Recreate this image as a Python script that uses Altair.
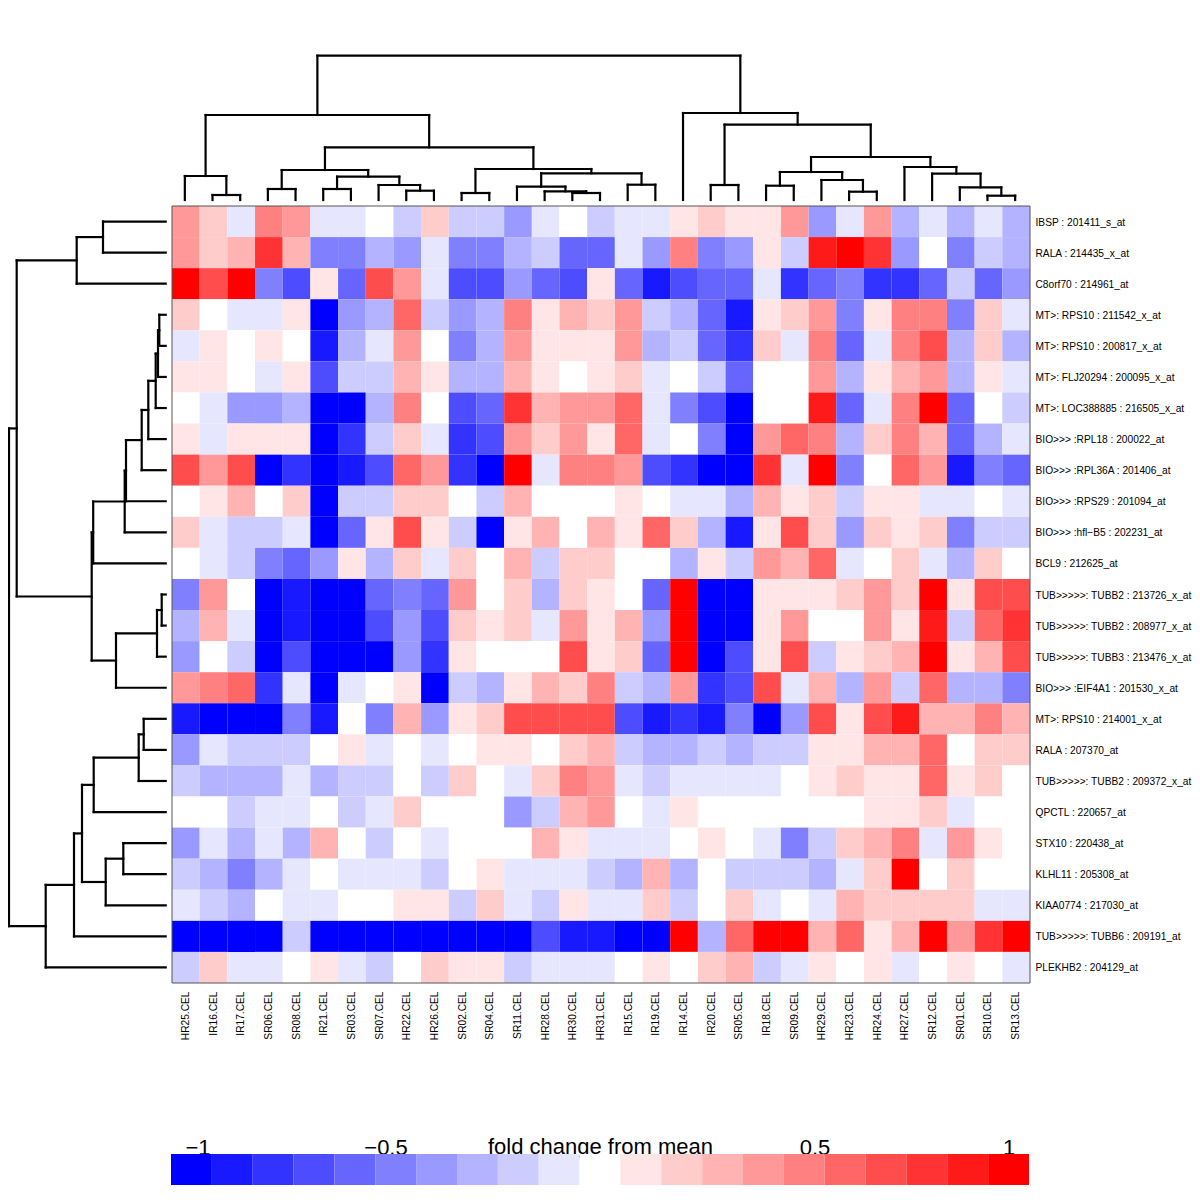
import altair as alt
import pandas as pd

FONT = "Liberation Sans"

col_labels = ["HR25.CEL", "IR16.CEL", "IR17.CEL", "SR06.CEL", "SR08.CEL", "IR21.CEL", "SR03.CEL", "SR07.CEL",
              "HR22.CEL", "HR26.CEL", "SR02.CEL", "SR04.CEL", "SR11.CEL", "HR28.CEL", "HR30.CEL", "HR31.CEL",
              "IR15.CEL", "IR19.CEL", "IR14.CEL", "IR20.CEL", "SR05.CEL", "IR18.CEL", "SR09.CEL", "HR29.CEL",
              "HR23.CEL", "HR24.CEL", "HR27.CEL", "SR12.CEL", "SR01.CEL", "SR10.CEL", "SR13.CEL"]

row_labels = ["IBSP : 201411_s_at", "RALA : 214435_x_at", "C8orf70 : 214961_at", "MT>: RPS10 : 211542_x_at",
              "MT>: RPS10 : 200817_x_at", "MT>: FLJ20294 : 200095_x_at", "MT>: LOC388885 : 216505_x_at",
              "BIO>>> :RPL18 : 200022_at", "BIO>>> :RPL36A : 201406_at", "BIO>>> :RPS29 : 201094_at",
              "BIO>>> :hfl\u2212B5 : 202231_at", "BCL9 : 212625_at", "TUB>>>>>: TUBB2 : 213726_x_at",
              "TUB>>>>>: TUBB2 : 208977_x_at", "TUB>>>>>: TUBB3 : 213476_x_at", "BIO>>> :EIF4A1 : 201530_x_at",
              "MT>: RPS10 : 214001_x_at", "RALA : 207370_at", "TUB>>>>>: TUBB2 : 209372_x_at", "QPCTL : 220657_at",
              "STX10 : 220438_at", "KLHL11 : 205308_at", "KIAA0774 : 217030_at", "TUB>>>>>: TUBB6 : 209191_at",
              "PLEKHB2 : 204129_at"]

# fold change from mean, in tenths (one line per probe, one entry per sample)
fold_tenths = [
    [4, 2, -1, 5, 4, -1, -1, 0, -2, 2, -2, -2, -4, -1, 0, -2, -1, -1, 1, 2, 1, 1, 4, -4, -1, 4, -3, -1, -3, -1, -3],
    [4, 2, 3, 8, 3, -5, -5, -3, -4, -1, -5, -5, -3, -2, -6, -6, -1, -4, 5, -5, -4, 1, -2, 9, 10, 8, -4, 0, -5, -2, -3],
    [10, 7, 10, -5, -7, 1, -6, 7, 4, -1, -7, -7, -4, -6, -7, 1, -6, -9, -7, -6, -6, -1, -8, -6, -5, -8, -8, -6, -2, -6, -4],
    [2, 0, -1, -1, 1, -10, -4, -3, 6, -2, -4, -3, 5, 1, 3, 2, 4, -2, -3, -6, -9, 1, 2, 4, -5, 1, 5, 5, -5, 2, -1],
    [-1, 1, 0, 1, 0, -9, -3, -1, 4, 0, -5, -3, 4, 1, 1, 1, 4, -3, -2, -6, -8, 2, -1, 5, -6, -1, 5, 7, -3, 2, -3],
    [1, 1, 0, -1, 1, -7, -2, -2, 3, 1, -3, -3, 3, 1, 0, 1, 2, -1, 0, -2, -6, 0, 0, 4, -3, 1, 3, 4, -3, 1, -1],
    [0, -1, -4, -4, -3, -10, -10, -3, 5, 0, -7, -6, 8, 3, 4, 4, 6, -1, -5, -7, -10, 0, 0, 9, -6, -1, 5, 10, -6, 0, -2],
    [1, -1, 1, 1, 1, -10, -8, -2, 2, -1, -8, -7, 4, 2, 4, 1, 6, -1, 0, -5, -10, 4, 6, 5, -3, 2, 5, 3, -6, -3, -1],
    [7, 4, 7, -10, -8, -10, -9, -7, 6, 4, -8, -10, 10, -1, 5, 5, 4, -7, -8, -10, -10, 8, -1, 10, -5, 0, 6, 4, -9, -5, -6],
    [0, 1, 3, 0, 2, -10, -2, -2, 2, 2, 0, -2, 3, 0, 0, 0, 1, 0, -1, -1, -3, 3, 1, 2, -2, 1, 1, -1, -1, 0, -1],
    [2, -1, -2, -2, -1, -10, -6, 1, 7, 1, -2, -10, 1, 3, 0, 3, 1, 6, 2, -3, -9, 1, 7, 2, -4, 2, 1, 2, -5, -2, -2],
    [0, -1, -2, -5, -6, -4, 1, -3, 2, -1, 2, 0, 3, -2, 2, 2, 0, 0, -3, 1, -2, 4, 3, 6, -1, 0, 2, -1, -3, 2, 0],
    [-5, 4, 0, -10, -9, -10, -10, -6, -5, -6, 4, 0, 2, -3, 2, 1, 0, -6, 10, -10, -10, 1, 1, 1, 2, 4, 2, 10, 1, 7, 7],
    [-3, 3, -1, -10, -9, -10, -10, -7, -4, -7, 2, 1, 2, -1, 4, 1, 3, -4, 10, -10, -10, 1, 4, 0, 0, 4, 1, 9, -2, 6, 8],
    [-4, 0, -2, -10, -7, -10, -10, -10, -4, -8, 1, 0, 0, 0, 7, 1, 2, -6, 10, -10, -7, 1, 7, -2, 1, 2, 3, 10, 1, 3, 7],
    [4, 5, 6, -8, -1, -10, -1, 0, 1, -10, -2, -3, 1, 3, 2, 5, -2, -3, 4, -8, -7, 7, -1, 3, -3, 4, -2, 6, -3, -3, -5],
    [-9, -10, -10, -10, -5, -9, 0, -5, 3, -4, 1, 2, 7, 7, 7, 7, -7, -9, -8, -9, -5, -10, -4, 7, 1, 7, 9, 3, 3, 5, 3],
    [-4, -1, -2, -2, -2, 0, 1, -1, 0, -1, 0, 1, 1, 0, 2, 3, -2, -3, -3, -2, -3, -2, -2, 1, 1, 3, 3, 6, 0, 2, 2],
    [-2, -3, -3, -3, -1, -3, -2, -2, 0, -2, 2, 0, -1, 2, 5, 4, -1, -2, -1, -1, -1, -1, 0, 1, 2, 1, 1, 6, 1, 2, 0],
    [0, 0, -2, -1, -1, 0, -2, -1, 2, 0, 0, 0, -4, -2, 3, 4, 0, -1, 1, 0, 0, 0, 0, 0, 0, 1, 1, 2, -1, 0, 0],
    [-4, -1, -3, -1, -3, 3, 0, -2, 0, -1, 0, 0, 0, 3, 1, -1, -1, -1, 0, 1, 0, -1, -5, -2, 2, 3, 5, -1, 4, 1, 0],
    [-2, -3, -5, -3, -1, 0, -1, -1, -1, -2, 0, 1, -1, -1, -1, -2, -3, 3, -3, 0, -2, -2, -2, -3, -1, 2, 10, 0, 2, 0, 0],
    [-1, -2, -3, 0, -1, -1, 0, 0, 1, 1, -2, 2, -1, -2, 1, -1, -1, 2, -2, 0, 2, -1, 0, -1, 3, 2, 2, 2, 2, -1, -1],
    [-10, -10, -10, -10, -2, -10, -10, -10, -10, -10, -10, -10, -10, -7, -9, -9, -10, -10, 10, -3, 6, 10, 10, 3, 6, 1, 3, 10, 4, 8, 10],
    [-2, 2, -1, -1, 0, 1, -1, -2, 0, 2, 1, 1, -2, -1, -1, -1, 0, 1, 0, 2, 3, -2, -1, 1, 0, 1, -1, 0, 1, 0, -1],
]

# Dendrogram merges: (child a, child b, height). A child >= 0 is a leaf index;
# a child < 0 refers to an earlier merge, -1 being the first one.
col_merges = [
    (1, 2, 5), (0, -1, 24), (3, 4, 11), (5, 6, 11), (8, 9, 9.3), (7, -5, 15), (-4, -6, 23.3), (-3, -7, 30),
    (10, 11, 7), (14, 15, 7), (13, -10, 8.7), (12, -11, 13.3), (16, 17, 15.3), (-12, -13, 26.7), (-9, -14, 31),
    (-8, -15, 52.7), (-2, -16, 85),
    (19, 20, 15), (21, 22, 14.3), (24, 25, 8.3), (23, -20, 20), (-19, -21, 28), (29, 30, 4.3), (28, -23, 12.7),
    (27, -24, 26.3), (26, -25, 33), (-22, -26, 43), (-18, -27, 75.3), (18, -28, 87), (-17, -29, 144.3),
]
row_merges = [
    (0, 1, 62.7), (-1, 2, 89), (3, 4, 6.4), (-3, 5, 7.7), (-4, 6, 10), (-5, 7, 17.4), (-6, 8, 24), (-7, 9, 39.7),
    (-8, 10, 41), (-9, 11, 72.5), (12, 13, 4), (-11, 14, 8.7), (-12, 15, 49.7), (-10, -13, 74), (-2, -14, 149),
    (16, 17, 22), (-16, 18, 27), (-17, 19, 72), (20, 21, 42.4), (-19, 22, 60), (-18, -20, 83.7), (-21, 23, 91.7),
    (-22, 24, 120), (-15, -23, 156.7),
]

legend_levels = list(range(-10, 11))
legend_ticks = [-0.985, -0.525, 0.525, 1.0]
legend_tick_text = ["\u22121", "\u22120.5", "0.5", "1"]
legend_title = "fold change from mean"
color_range = ["#0000ff", "#ffffff", "#ff0000"]


def segments(merges):
    """Turn the merge table into the three strokes of each bracket."""
    nodes = []
    out = []

    def place(child):
        return (child + 0.5, 0.0) if child >= 0 else nodes[-child - 1]

    for a, b, h in merges:
        pa, ha = place(a)
        pb, hb = place(b)
        out.append({"p": pa, "p2": pb, "h": h, "h2": h})
        out.append({"p": pa, "p2": pa, "h": ha, "h2": h})
        out.append({"p": pb, "p2": pb, "h": hb, "h2": h})
        nodes.append(((pa + pb) / 2, h))
    return pd.DataFrame(out)


heat_df = pd.DataFrame(
    [{"probe": r, "sample": c, "fold": fold_tenths[i][j] / 10}
     for i, r in enumerate(row_labels) for j, c in enumerate(col_labels)]
)
legend_df = pd.DataFrame({"lo": [(v - 0.5) / 10 for v in legend_levels],
                          "hi": [(v + 0.5) / 10 for v in legend_levels],
                          "fold": [v / 10 for v in legend_levels]})

HEAT_W, HEAT_H = 858, 777
LEFT_W, TOP_H = 163, 198
color_scale = alt.Scale(domain=[-1, 0, 1], range=color_range, interpolate="rgb")


def spacer(w, h):
    return (alt.Chart(pd.DataFrame({"a": [0]})).mark_point(opacity=0)
            .encode(x=alt.X("a:Q", axis=None)).properties(width=w, height=h))


heat = alt.Chart(heat_df).mark_rect().encode(
    x=alt.X("sample:N", sort=col_labels, scale=alt.Scale(paddingInner=0, paddingOuter=0),
            axis=alt.Axis(title=None, orient="bottom", labelAngle=-90, ticks=False, domain=False,
                          labelFont=FONT, labelFontSize=10.2, labelColor="black", labelPadding=8,
                          labelLimit=0, labelOverlap=False)),
    y=alt.Y("probe:N", sort=row_labels, scale=alt.Scale(paddingInner=0, paddingOuter=0),
            axis=alt.Axis(title=None, orient="right", ticks=False, domain=False,
                          labelFont=FONT, labelFontSize=10.2, labelColor="black", labelPadding=5,
                          labelOffset=1, labelLimit=0, labelOverlap=False)),
    color=alt.Color("fold:Q", scale=color_scale, legend=None),
)
frame = alt.Chart(pd.DataFrame({"a": [0]})).mark_rect(filled=False, stroke="#555555", strokeWidth=1).encode(
    x=alt.value(0), x2=alt.value(HEAT_W), y=alt.value(0), y2=alt.value(HEAT_H))
heat_panel = alt.layer(heat, frame).properties(width=HEAT_W, height=HEAT_H)

top_dendro = alt.Chart(segments(col_merges)).mark_rule(color="black", strokeWidth=2.2, strokeCap="square").encode(
    x=alt.X("p:Q", scale=alt.Scale(domain=[0, len(col_labels)], nice=False, zero=False), axis=None),
    x2="p2:Q",
    y=alt.Y("h:Q", scale=alt.Scale(domain=[-5, 193], nice=False, zero=False), axis=None),
    y2="h2:Q",
).properties(width=HEAT_W, height=TOP_H)

left_dendro = alt.Chart(segments(row_merges)).mark_rule(color="black", strokeWidth=2.2, strokeCap="square").encode(
    x=alt.X("h:Q", scale=alt.Scale(domain=[157.7, -5.3], nice=False, zero=False), axis=None),
    x2="h2:Q",
    y=alt.Y("p:Q", scale=alt.Scale(domain=[len(row_labels), 0], nice=False, zero=False), axis=None),
    y2="p2:Q",
).properties(width=LEFT_W, height=HEAT_H)

label_expr = ("datum.value < -0.9 ? '%s' : datum.value < 0 ? '%s' : datum.value < 0.9 ? '%s' : '%s'"
              % tuple(legend_tick_text))
color_bar = alt.Chart(legend_df).mark_rect().encode(
    x=alt.X("lo:Q", scale=alt.Scale(domain=[-1.05, 1.05], nice=False, zero=False),
            axis=alt.Axis(orient="top", values=legend_ticks, labelExpr=label_expr, ticks=False, domain=False,
                          grid=False, labelFont=FONT, labelFontSize=22, labelColor="black", labelPadding=0,
                          labelBaseline="alphabetic", labelOverlap=False, labelFlush=False,
                          title=legend_title, titleFont=FONT, titleFontSize=22, titleFontWeight="normal",
                          titleColor="black", titleBaseline="alphabetic", titleY=-1)),
    x2="hi:Q",
    color=alt.Color("fold:Q", scale=color_scale, legend=None),
).properties(width=HEAT_W, height=31)

upper = alt.vconcat(
    alt.hconcat(spacer(LEFT_W, TOP_H), top_dendro, spacing=0),
    alt.hconcat(left_dendro, heat_panel, spacing=0),
    spacing=0,
)
lower = alt.hconcat(spacer(LEFT_W, 31), color_bar, spacing=0)

chart = (alt.vconcat(upper, lower, spacing=95)
         .properties(padding={"left": -1, "top": -1, "bottom": 0, "right": 0})
         .configure_view(stroke=None))
chart.save("out.html", embed_options={"renderer": "svg", "actions": False})
